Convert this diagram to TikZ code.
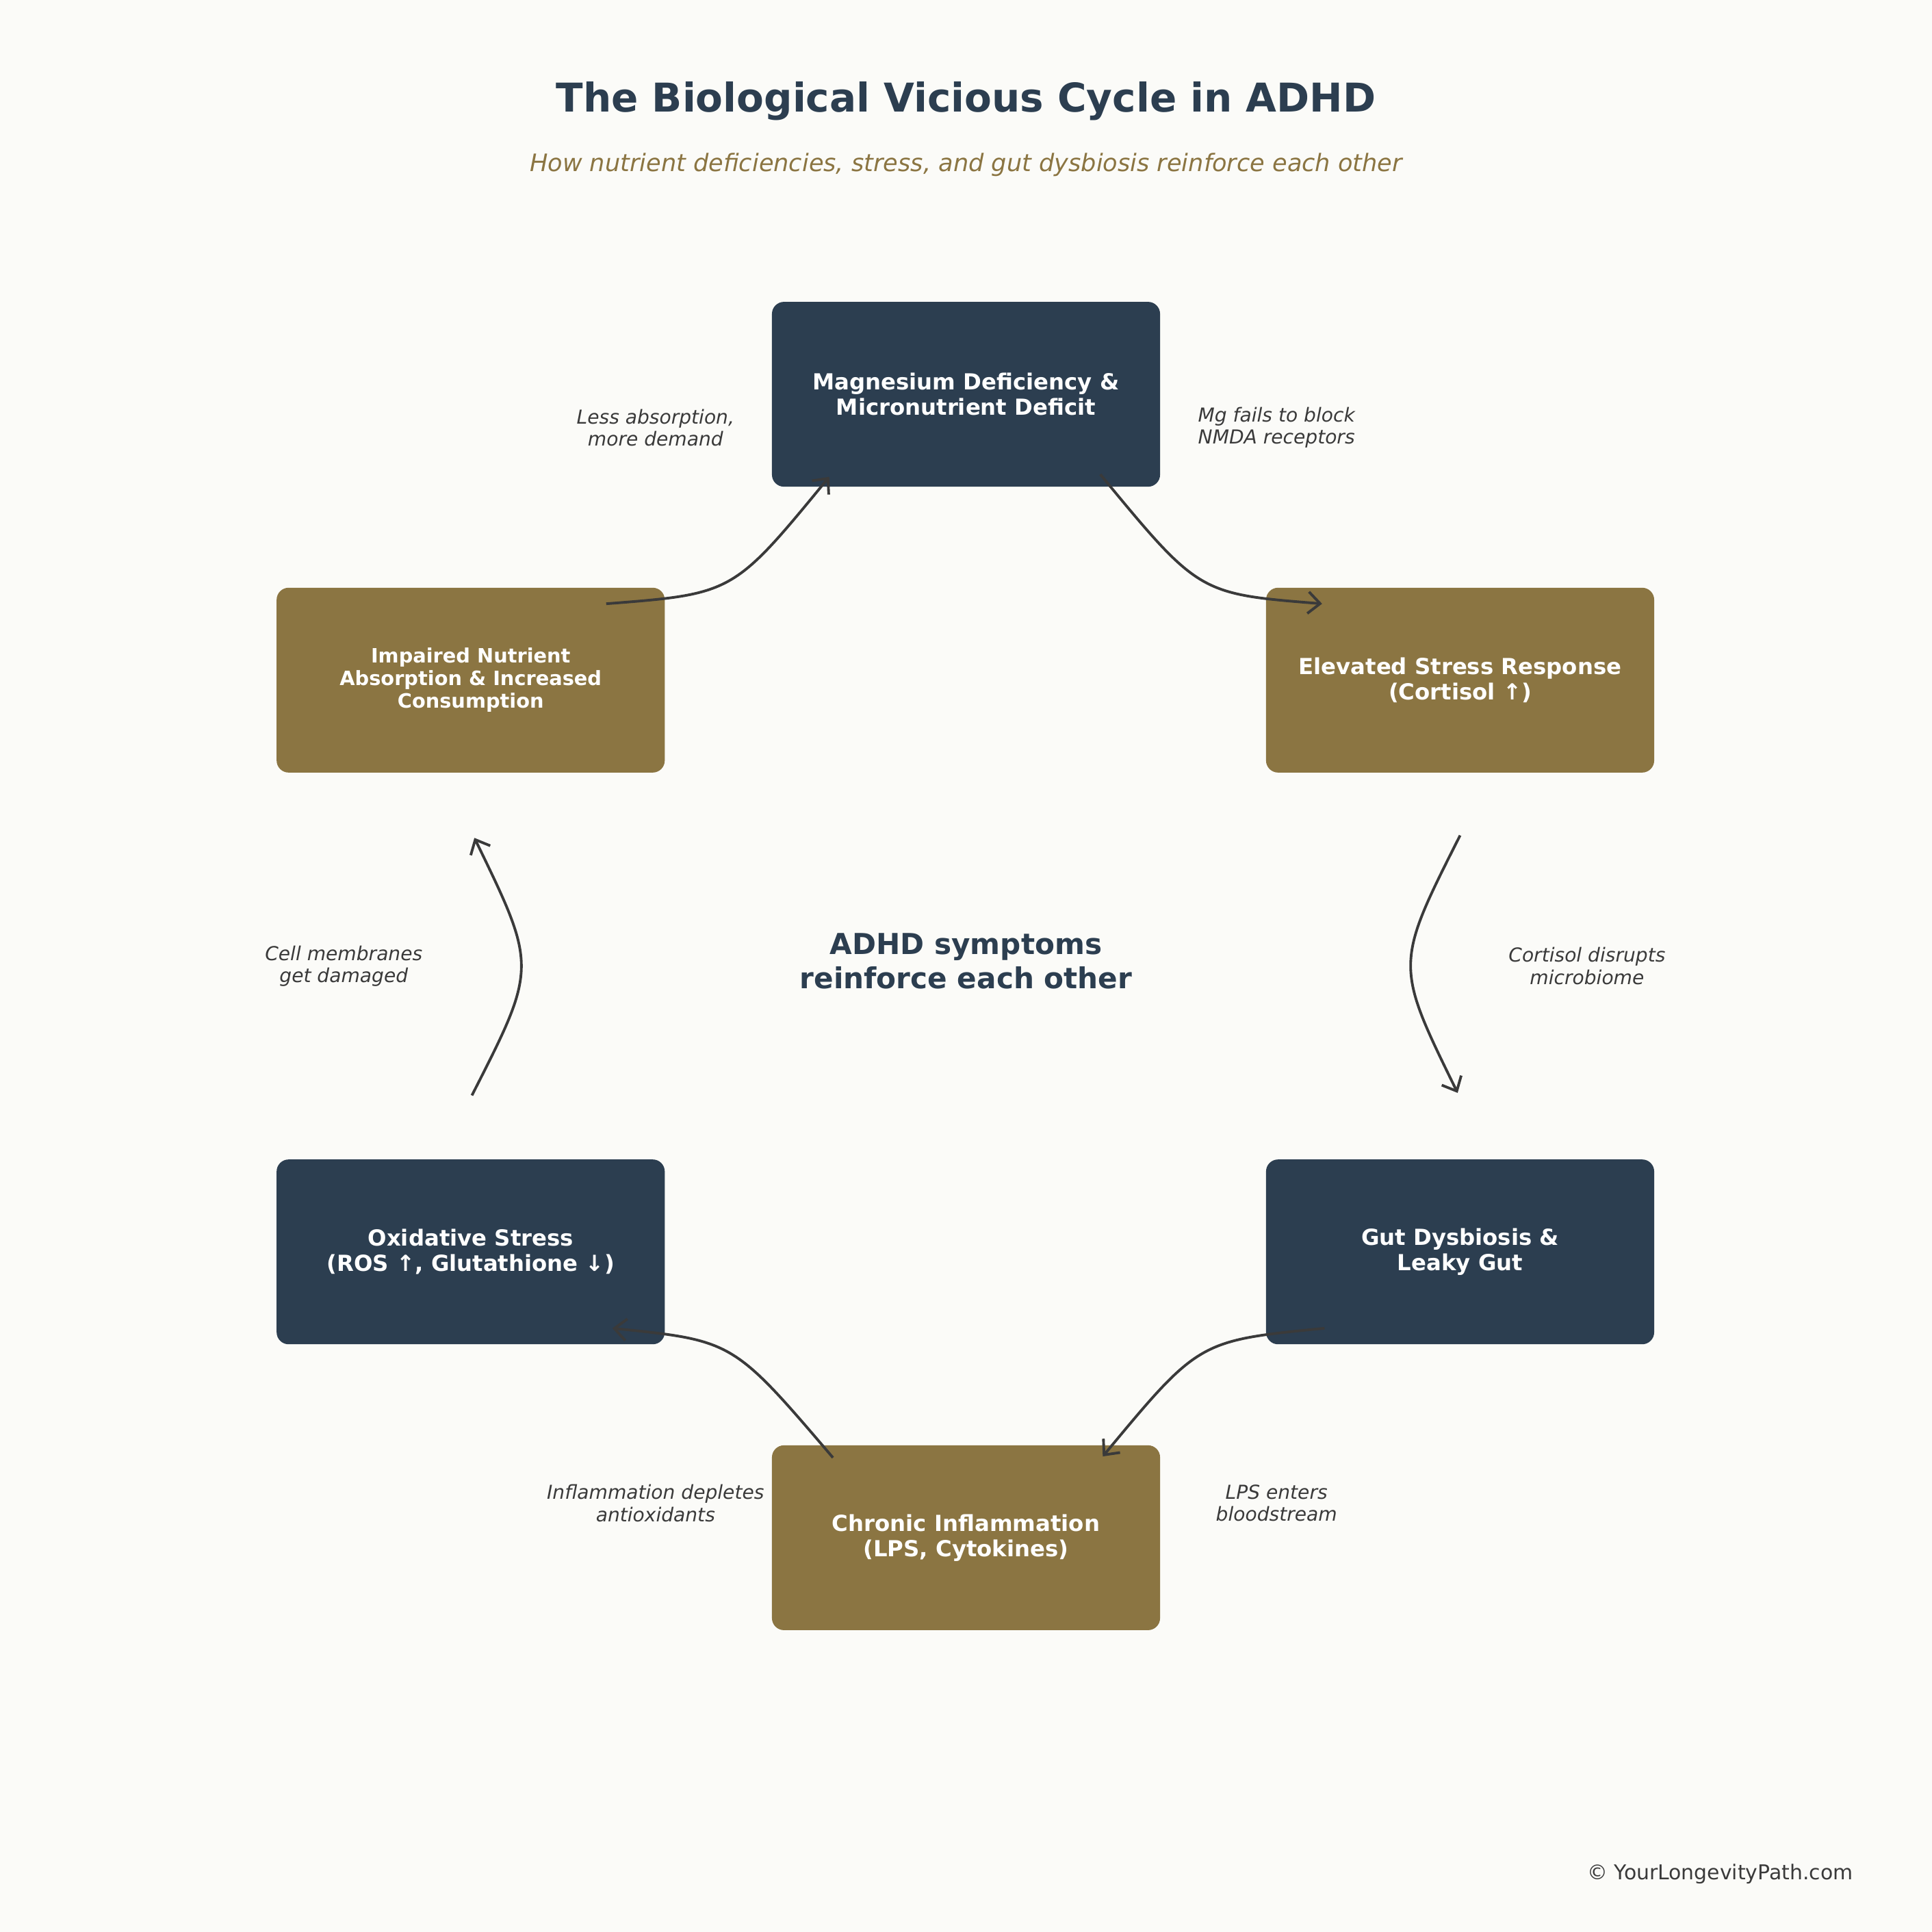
\documentclass[tikz,border=0pt]{standalone}
\usepackage{fontspec}
\setmainfont{DejaVu Sans}
\usetikzlibrary{arrows.meta}
\definecolor{bg}{HTML}{FBFBF8}
\definecolor{navy}{HTML}{2C3E50}
\definecolor{gold}{HTML}{8B7542}
\definecolor{ink}{HTML}{3A3A3A}
\begin{document}
\begin{tikzpicture}[x=0.018cm,y=-0.018cm,
  boxn/.style={fill=navy,rounded corners=5pt,minimum width=315*0.018cm,minimum height=150*0.018cm,text=white,font=\bfseries\fontsize{9.2}{10.5}\selectfont,align=center,inner sep=0},
  boxg/.style={boxn,fill=gold},
  lab/.style={text=ink,font=\itshape\fontsize{8}{9.2}\selectfont,align=center},
  arr/.style={draw=ink,line width=1.1pt,-{Straight Barb[length=5pt,width=9pt]}}]
\fill[bg] (0,0) rectangle (1568,1568);
\node (title) at (784,82) {\fontsize{16.5}{20}\selectfont\bfseries\color{navy}The Biological Vicious Cycle in ADHD};
\node (sub) at (784,134) {\fontsize{10}{12}\selectfont\itshape\color{gold}How nutrient deficiencies, stress, and gut dysbiosis reinforce each other};
\node[boxn] (mg) at (784,320) {Magnesium Deficiency \&\\Micronutrient Deficit};
\node[boxg] (st) at (1185,552) {Elevated Stress Response\\(Cortisol ↑)};
\node[boxn] (gut) at (1185,1016) {Gut Dysbiosis \&\\Leaky Gut};
\node[boxg] (inf) at (784,1248) {Chronic Inflammation\\(LPS, Cytokines)};
\node[boxn] (ox) at (382,1016) {Oxidative Stress\\(ROS ↑, Glutathione ↓)};
\node[boxg,font=\bfseries\fontsize{8.2}{9.4}\selectfont] (imp) at (382,552) {Impaired Nutrient\\Absorption \& Increased\\Consumption};
\node (ctr) at (784,783) {\fontsize{12}{14}\selectfont\bfseries\color{navy}\begin{tabular}{c}ADHD symptoms\\reinforce each other\end{tabular}};
\node[lab] (l1) at (1036,347) {Mg fails to block\\NMDA receptors};
\node[lab] (l2) at (1288,784) {Cortisol disrupts\\microbiome};
\node[lab] (l3) at (1036,1220) {LPS enters\\bloodstream};
\node[lab] (l4) at (532,1220) {Inflammation depletes\\antioxidants};
\node[lab] (l5) at (279,784) {Cell membranes\\get damaged};
\node[lab] (l6) at (532,347) {Less absorption,\\more demand};
\node (copy) at (1396,1521) {\fontsize{8.5}{10}\selectfont\color{ink}© YourLongevityPath.com};
\coordinate (a1s) at (492,490); \coordinate (a1e) at (673,387);
\coordinate (a2s) at (893,385); \coordinate (a2e) at (1073,490);
\coordinate (a3s) at (1185,678); \coordinate (a3e) at (1183,887);
\coordinate (a4s) at (1075,1078); \coordinate (a4e) at (895,1182);
\coordinate (a5s) at (676,1183); \coordinate (a5e) at (497,1078);
\coordinate (a6s) at (383,889); \coordinate (a6e) at (385,680);
\draw[arr] (a1s) .. controls (595,482) .. (a1e);
\draw[arr] (a2s) .. controls (973,482) .. (a2e);
\draw[arr] (a3s) .. controls (1132,783) .. (a3e);
\draw[arr] (a4s) .. controls (973,1088) .. (a4e);
\draw[arr] (a5s) .. controls (595,1088) .. (a5e);
\draw[arr] (a6s) .. controls (436,785) .. (a6e);
\end{tikzpicture}
\end{document}
